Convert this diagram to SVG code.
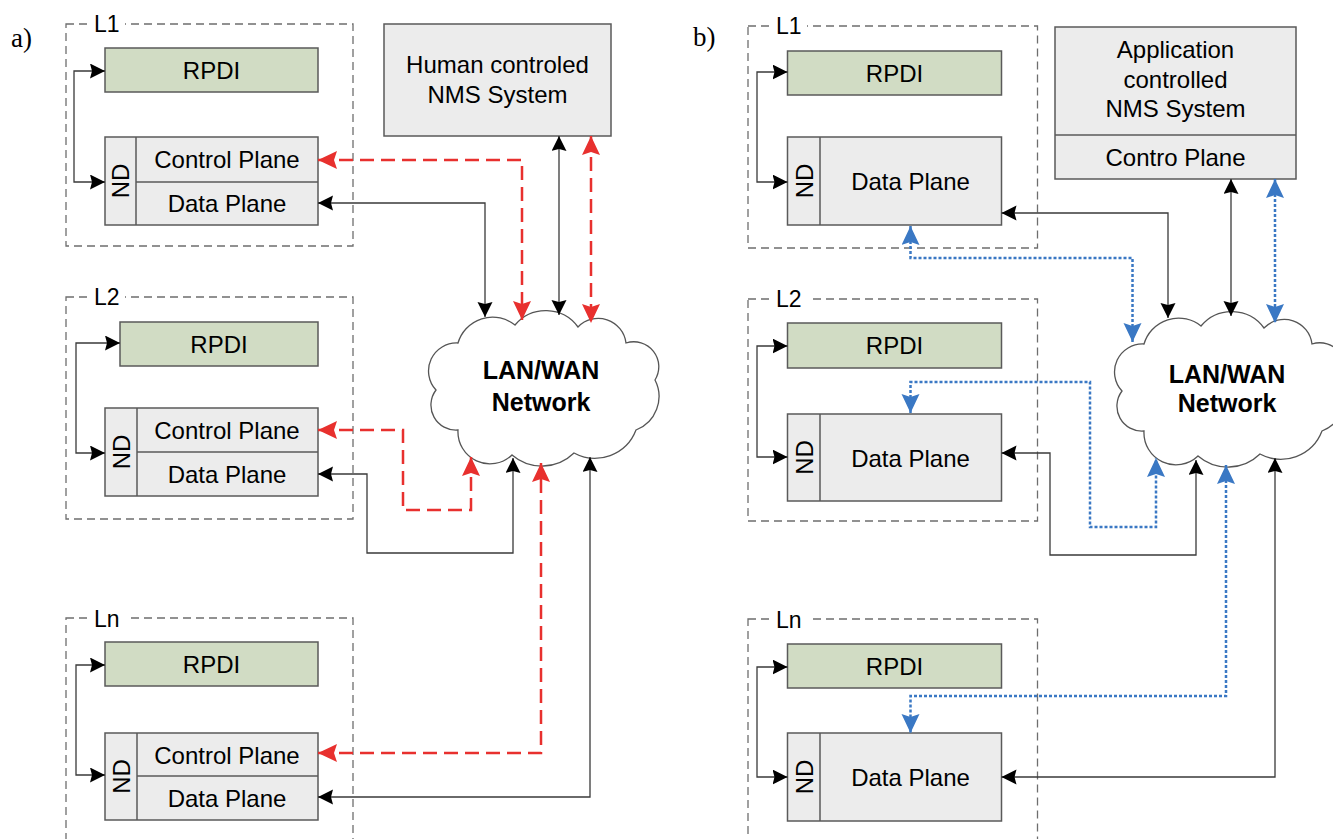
<svg xmlns="http://www.w3.org/2000/svg" width="1333" height="839" viewBox="0 0 1333 839">
<defs>
<style>
.frame{fill:none;stroke:#6e6e6e;stroke-width:1.3;stroke-dasharray:8,5}
.lbl{font-family:"Liberation Sans",Arial,sans-serif;font-size:23px;fill:#000}
.gap{fill:#fff}
.rpdi{fill:#d1dcc4;stroke:#5a5a5a;stroke-width:1.5}
.box{fill:#ececec;stroke:#5a5a5a;stroke-width:1.5}
.t{font-family:"Liberation Sans",Arial,sans-serif;font-size:24px;fill:#000;text-anchor:middle}
.tb{font-family:"Liberation Sans",Arial,sans-serif;font-size:25px;font-weight:bold;fill:#000;text-anchor:middle}
.ser{font-family:"Liberation Serif","Times New Roman",serif;font-size:27px;fill:#000}
.cloud{fill:#fff;stroke:#555;stroke-width:1.3}
.blk{fill:none;stroke:#3a3a3a;stroke-width:1.3;marker-start:url(#ab);marker-end:url(#ab)}
.red{fill:none;stroke:#e8302e;stroke-width:2.5;stroke-dasharray:14,7;marker-start:url(#ar);marker-end:url(#ar)}
.blu{fill:none;stroke:#3a78c4;stroke-width:2.5;stroke-dasharray:3,2;marker-start:url(#au);marker-end:url(#au)}
</style>
<marker id="ab" markerUnits="userSpaceOnUse" markerWidth="16" markerHeight="16" refX="15" refY="7.5" orient="auto-start-reverse" viewBox="0 0 16 16">
<path d="M0,0 L15,7.5 L0,15 L2,7.5 Z" fill="#000"/>
</marker>
<marker id="ar" markerUnits="userSpaceOnUse" markerWidth="20" markerHeight="19" refX="19" refY="9" orient="auto-start-reverse" viewBox="0 0 20 19">
<path d="M0,0 L19,9 L0,18 L3,9 Z" fill="#e8302e"/>
</marker>
<marker id="au" markerUnits="userSpaceOnUse" markerWidth="20" markerHeight="19" refX="19" refY="9" orient="auto-start-reverse" viewBox="0 0 20 19">
<path d="M0,0 L19,9 L0,18 L3,9 Z" fill="#3a78c4"/>
</marker>
<path id="cloudshape" d="M458,343 A36,36 0 0 1 515,325 A40,40 0 0 1 578,327 A28,28 0 0 1 626,343 A25,25 0 0 1 655,380 A36,36 0 0 1 636,430 A44,44 0 0 1 574,453 A46,46 0 0 1 512,455 A32,32 0 0 1 458,430 A25,25 0 0 1 436,390 A28,28 0 0 1 458,343 Z"/>
</defs>
<rect width="1333" height="839" fill="#fff"/>

<text class="ser" x="11" y="47">a)</text>
<text class="ser" x="693" y="46">b)</text>

<!-- Panel a -->
<g id="a-L1">
<rect class="frame" x="66" y="24" width="287" height="222"/>
<rect class="gap" x="89" y="12" width="36" height="24"/>
<text class="lbl" x="94" y="32">L1</text>
</g>
<g id="a-L1-rpdi"><rect class="rpdi" x="105" y="48" width="213" height="44"/><text class="t" x="211.5" y="79">RPDI</text></g>
<g id="a-L1-nd">
<rect class="box" x="105" y="137" width="213" height="88"/>
<line x1="136" y1="137" x2="136" y2="225" stroke="#5a5a5a" stroke-width="1.5"/>
<line x1="136" y1="182" x2="318" y2="182" stroke="#5a5a5a" stroke-width="1.5"/>
<text class="t" transform="translate(129,181) rotate(-90)">ND</text>
<text class="t" x="227" y="168">Control Plane</text>
<text class="t" x="227" y="212">Data Plane</text>
</g>

<g id="a-L2">
<rect class="frame" x="66" y="297" width="287" height="222"/>
<rect class="gap" x="89" y="285" width="36" height="24"/>
<text class="lbl" x="94" y="305">L2</text>
</g>
<g id="a-L2-rpdi"><rect class="rpdi" x="120" y="322" width="198" height="44"/><text class="t" x="219" y="352.5">RPDI</text></g>
<g id="a-L2-nd">
<rect class="box" x="105" y="408" width="213" height="88"/>
<line x1="137" y1="408" x2="137" y2="496" stroke="#5a5a5a" stroke-width="1.5"/>
<line x1="137" y1="452" x2="318" y2="452" stroke="#5a5a5a" stroke-width="1.5"/>
<text class="t" transform="translate(129.5,452) rotate(-90)">ND</text>
<text class="t" x="227" y="439">Control Plane</text>
<text class="t" x="227" y="483">Data Plane</text>
</g>

<g id="a-Ln">
<rect class="frame" x="66" y="618" width="287" height="260"/>
<rect class="gap" x="89" y="606" width="38" height="24"/>
<text class="lbl" x="94" y="627">Ln</text>
</g>
<g id="a-Ln-rpdi"><rect class="rpdi" x="105" y="642" width="213" height="44"/><text class="t" x="211.5" y="673">RPDI</text></g>
<g id="a-Ln-nd">
<rect class="box" x="105" y="733" width="213" height="87"/>
<line x1="137" y1="733" x2="137" y2="820" stroke="#5a5a5a" stroke-width="1.5"/>
<line x1="137" y1="776" x2="318" y2="776" stroke="#5a5a5a" stroke-width="1.5"/>
<text class="t" transform="translate(129.5,776.5) rotate(-90)">ND</text>
<text class="t" x="227" y="763.5">Control Plane</text>
<text class="t" x="227" y="807">Data Plane</text>
</g>

<g id="a-nms">
<rect class="box" x="384" y="24" width="227" height="112"/>
<text class="t" x="497.5" y="72.5">Human controled</text>
<text class="t" x="497.5" y="102.5">NMS System</text>
</g>

<g id="a-cloud">
<use href="#cloudshape" class="cloud"/>
<text class="tb" x="541" y="379">LAN/WAN</text>
<text class="tb" x="541" y="411">Network</text>
</g>

<!-- Panel b -->
<g id="b-L1">
<rect class="frame" x="748" y="26" width="289.5" height="222"/>
<rect class="gap" x="771" y="14" width="36" height="24"/>
<text class="lbl" x="776" y="34">L1</text>
</g>
<g id="b-L1-rpdi"><rect class="rpdi" x="787.5" y="51" width="214" height="44"/><text class="t" x="894.5" y="81.5">RPDI</text></g>
<g id="b-L1-nd">
<rect class="box" x="787.5" y="137" width="214" height="88"/>
<line x1="820" y1="137" x2="820" y2="225" stroke="#5a5a5a" stroke-width="1.5"/>
<text class="t" transform="translate(812.5,181) rotate(-90)">ND</text>
<text class="t" x="910.5" y="190">Data Plane</text>
</g>

<g id="b-L2">
<rect class="frame" x="748" y="299" width="289.5" height="222"/>
<rect class="gap" x="771" y="287" width="38" height="24"/>
<text class="lbl" x="776" y="307">L2</text>
</g>
<g id="b-L2-rpdi"><rect class="rpdi" x="787.5" y="323" width="214" height="45"/><text class="t" x="894.5" y="354">RPDI</text></g>
<g id="b-L2-nd">
<rect class="box" x="787.5" y="414" width="214" height="87"/>
<line x1="820" y1="414" x2="820" y2="501" stroke="#5a5a5a" stroke-width="1.5"/>
<text class="t" transform="translate(812.5,457.5) rotate(-90)">ND</text>
<text class="t" x="910.5" y="466.5">Data Plane</text>
</g>

<g id="b-Ln">
<rect class="frame" x="748" y="619" width="289.5" height="260"/>
<rect class="gap" x="771" y="607" width="38" height="24"/>
<text class="lbl" x="776" y="628">Ln</text>
</g>
<g id="b-Ln-rpdi"><rect class="rpdi" x="787.5" y="644" width="214" height="44"/><text class="t" x="894.5" y="674.5">RPDI</text></g>
<g id="b-Ln-nd">
<rect class="box" x="787.5" y="733" width="214" height="88"/>
<line x1="820" y1="733" x2="820" y2="821" stroke="#5a5a5a" stroke-width="1.5"/>
<text class="t" transform="translate(812.5,777) rotate(-90)">ND</text>
<text class="t" x="910.5" y="786">Data Plane</text>
</g>

<g id="b-nms">
<rect class="box" x="1055" y="27" width="241" height="152"/>
<line x1="1055" y1="135" x2="1296" y2="135" stroke="#5a5a5a" stroke-width="1.5"/>
<text class="t" x="1175.5" y="58">Application</text>
<text class="t" x="1175.5" y="88">controlled</text>
<text class="t" x="1175.5" y="117">NMS System</text>
<text class="t" x="1175.5" y="165.5">Contro Plane</text>
</g>

<g id="b-cloud">
<use href="#cloudshape" class="cloud" transform="translate(686,1)"/>
<text class="tb" x="1227" y="383">LAN/WAN</text>
<text class="tb" x="1227" y="412">Network</text>
</g>

<g id="connectors">
<path class="blk" d="M105,71 H74 V182 H105"/>
<path class="blk" d="M120,343 H76 V453 H105"/>
<path class="blk" d="M105,665 H76 V775 H105"/>
<path class="red" d="M318,160 H522 V320"/>
<path class="blk" d="M318,203 H485 V317"/>
<path class="blk" d="M559,136 V315"/>
<path class="red" d="M591,136 V323"/>
<path class="red" d="M318,430 H403 V510 H471 V457"/>
<path class="blk" d="M318,474 H367 V553 H513 V458"/>
<path class="red" d="M318,753 H541 V463"/>
<path class="blk" d="M318,797 H590 V457"/>

<path class="blk" d="M787.5,72 H757 V182 H787.5"/>
<path class="blk" d="M787.5,346 H757 V457 H787.5"/>
<path class="blk" d="M787.5,667 H757 V777 H787.5"/>
<path class="blk" d="M1001.5,213 H1168 V318"/>
<path class="blk" d="M1231,179 V316"/>
<path class="blu" d="M1275,179 V323"/>
<path class="blu" d="M910.5,226 V258 H1132.5 V342"/>
<path class="blu" d="M910.5,413 V382 H1090 V527 H1156 V458"/>
<path class="blk" d="M1001.5,453 H1050 V555 H1196 V460"/>
<path class="blu" d="M1226,465 V696 H910.5 V733"/>
<path class="blk" d="M1001.5,777 H1275 V458"/>
</g>
</svg>
